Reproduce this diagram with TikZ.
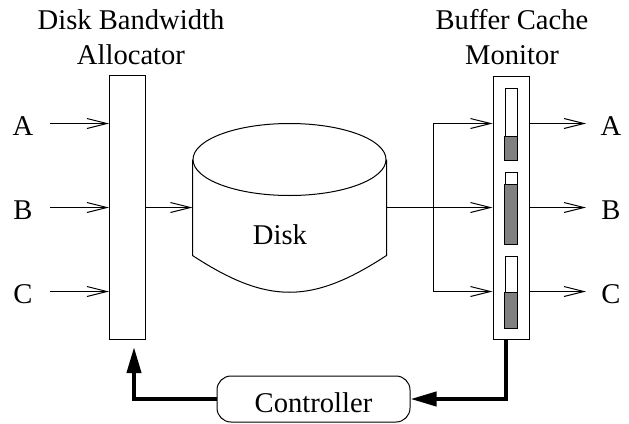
\documentclass[tikz,border=0pt]{standalone}
\usepackage{fontspec}
\setmainfont{Liberation Serif}
\usetikzlibrary{arrows.meta, positioning, calc}

\begin{document}
\begin{tikzpicture}[
                    x=1pt, y=-1pt,
                    line width=1pt,
                    font=\fontsize{28.6}{35}\selectfont,
                    every node/.style={inner sep=0pt},
                    flow/.style={-{Straight Barb[length=20pt, width=10pt]}},
                    feedback/.style={line width=4pt, -{Triangle[length=26pt, width=14pt]}},
                    column/.style={draw, minimum width=36pt, minimum height=264pt},
                    gauge/.style={draw, fill=white, minimum width=12pt, minimum height=72pt},
                ]
                \useasboundingbox (0,0) rectangle (629,423);

                % allocator and monitor
                \node[column] (alloc) at (127.5,207.5) {};
                \node[column, minimum height=263pt] (monitor) at (511,207.5) {};
                \node[align=center, anchor=north] (allocTitle) at (131,9) {Disk Bandwidth\\Allocator};
                \node[align=center, anchor=north] (monitorTitle) at (512,9) {Buffer Cache\\Monitor};

                % disk
                \node[minimum width=193pt, minimum height=95pt] (disk) at (289.5,207.5) {};
                \draw (disk.north) ellipse [x radius=96.5pt, y radius=36pt];
                \draw (disk.north west) -- (disk.south west)
                        .. controls +(75,49) and +(-75,49) .. (disk.south east) -- (disk.north east);
                \node[anchor=base] (diskLabel) at (280,244) {Disk};

                \draw[flow] (alloc.east) -- (disk.west);
                \coordinate (split) at (433,207.5);
                \draw (disk.east) -- (split);
                \draw[flow] (split) -- (monitor.west);

                % streams A, B, C
                \foreach \name/\lvl/\amount in {A/123.5/24, B/207.5/60, C/291.5/36} {
                        \node[anchor=base] (in\name) at (23,\lvl+11.5) {\name};
                        \coordinate (src\name) at (50,\lvl);
                        \draw[flow] (src\name) -- (src\name -| alloc.west);
                        \node[anchor=base] (out\name) at (611,\lvl+11.5) {\name};
                        \coordinate (dst\name) at (586,\lvl);
                        \draw[flow] (dst\name -| monitor.east) -- (dst\name);
                        \node[gauge] (gauge\name) at (511,\lvl+0.5) {};
                        \draw[fill=gray] (gauge\name.south west) rectangle ([yshift=\amount pt]gauge\name.south east);
                }
                \draw[flow] (split) |- (dstA -| monitor.west);
                \draw[flow] (split) |- (dstC -| monitor.west);

                % controller loop
                \node[draw, rounded corners=14pt, minimum width=193pt, minimum height=46pt,
                        text height=26pt, text depth=0pt] (ctrl) at (313.5,399) {Controller};
                \draw[feedback] ([xshift=-5pt]monitor.south) |- (ctrl.east);
                \draw[feedback, shorten >=7pt] (ctrl.west) -| ([xshift=6.5pt]alloc.south);
\end{tikzpicture}
\end{document}
